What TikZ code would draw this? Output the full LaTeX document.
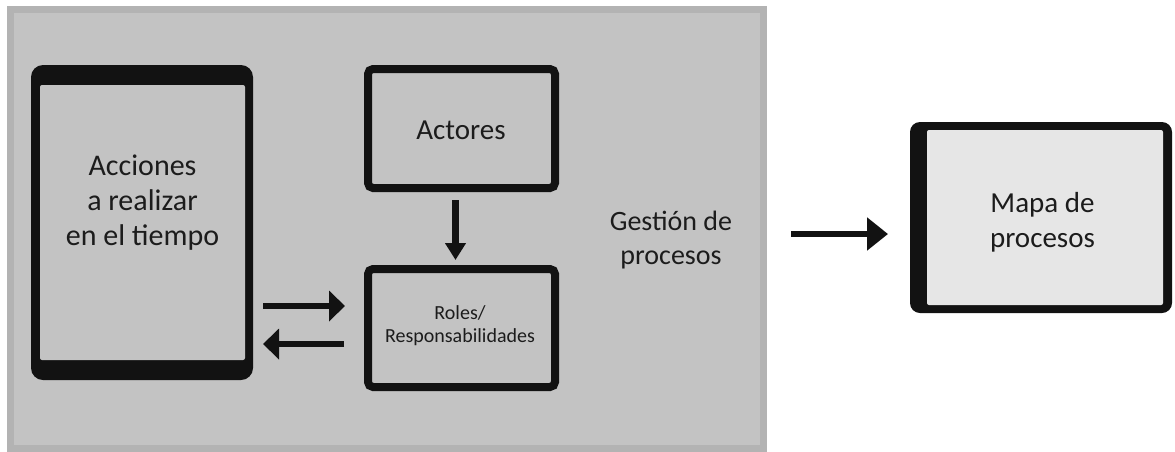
\documentclass[tikz,border=0pt]{standalone}
\usepackage{fontspec}
\setmainfont{Carlito}
\usetikzlibrary{arrows.meta}
\definecolor{bggray}{HTML}{C3C3C3}
\definecolor{bgborder}{HTML}{B3B3B3}
\definecolor{inkblack}{HTML}{121212}
\definecolor{txtgray}{HTML}{1C1C1C}
\definecolor{lightin}{HTML}{E6E6E6}
\tikzset{
  framebox/.style={draw=inkblack, line width=8pt, rounded corners=5pt, fill=bggray, inner sep=0pt, outer sep=0pt},
  tabframe/.style={fill=inkblack, rounded corners=12pt, inner sep=0pt, outer sep=0pt},
  tabinner/.style={rounded corners=2pt, inner sep=0pt, outer sep=0pt},
  lbl/.style={text=txtgray, align=center, inner sep=0pt},
  arr/.style={draw=inkblack, line width=6pt, -{Triangle[width=30pt,length=16pt]}},
  arrbig/.style={draw=inkblack, line width=6pt, -{Triangle[width=32pt,length=21pt]}},
  arrdown/.style={draw=inkblack, line width=7pt, -{Triangle[width=20pt,length=17pt]}}
}
\begin{document}
\begin{tikzpicture}[x=1pt,y=-1pt]
\useasboundingbox (0,0) rectangle (1175,451);
\fill[white] (0,0) rectangle (1175,451);
% gray panel
\draw[draw=bgborder, fill=bggray, line width=7pt] (10.5,9.5) rectangle (763.5,448.5);
% left tablet
\node[tabframe, minimum width=222pt, minimum height=315pt] (tabA) at (142,222.5) {};
\node[tabinner, fill=bggray, minimum width=205pt, minimum height=275pt] (tabAin) at (142.5,222.5) {};
\node[lbl, font={\fontsize{30}{35}\selectfont}] (accT) at (142.5,203) {Acciones\\a realizar\\en el tiempo};
% Actores
\node[framebox, minimum width=187pt, minimum height=119pt] (act) at (461.5,128.5) {};
\node[lbl, font={\fontsize{29}{35}\selectfont}] (actT) at (461,130.5) {Actores};
% Roles
\node[framebox, minimum width=187pt, minimum height=118pt] (rol) at (461.5,328) {};
\node[lbl, font={\fontsize{20}{23}\selectfont}] (rolT) at (460,325.5) {Roles/\\Responsabilidades};
% Gestion text
\node[lbl, font={\fontsize{28}{34}\selectfont}] (gest) at (671,240.5) {Gestión de\\procesos};
% right tablet
\node[tabframe, rounded corners=10pt, minimum width=262pt, minimum height=191pt] (tabB) at (1041,217.5) {};
\node[tabinner, fill=lightin, minimum width=236pt, minimum height=175pt] (tabBin) at (1045,217.5) {};
\node[lbl, font={\fontsize{29}{35}\selectfont}] (mapT) at (1042.5,222.5) {Mapa de\\procesos};
% arrow end points
\coordinate (dA) at (455.5,200);
\coordinate (dB) at (455.5,260);
\coordinate (hA) at (263,306);
\coordinate (hB) at (345,306);
\coordinate (hC) at (344,344);
\coordinate (hD) at (263,344);
\coordinate (rA) at (791,234);
\coordinate (rB) at (888,234);
\draw[arrdown] (dA) -- (dB);
\draw[arr] (hA) -- (hB);
\draw[arr] (hC) -- (hD);
\draw[arrbig] (rA) -- (rB);
\end{tikzpicture}
\end{document}
